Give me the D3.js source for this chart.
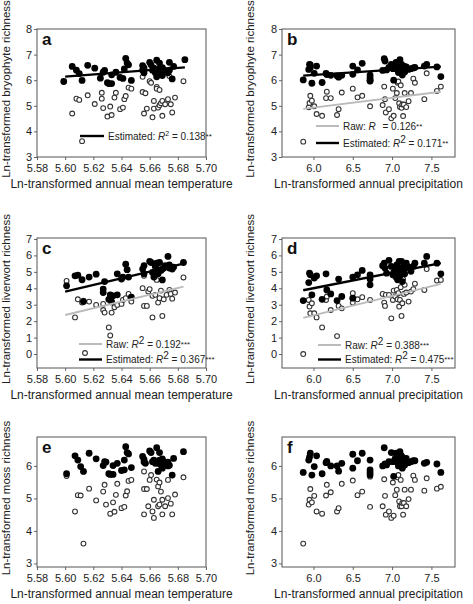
<!DOCTYPE html>
<html><head><meta charset="utf-8">
<script src="https://cdn.jsdelivr.net/npm/d3@7"></script>
<style>body{margin:0;background:#fff;} svg text{font-family:Arial,"Liberation Sans",sans-serif;}</style>
</head><body><svg id="chart" width="473" height="604"></svg>
<script>
// ---------- tick labels ----------
const tempTicks = [5.58, 5.60, 5.62, 5.64, 5.66, 5.68, 5.70];
const precipTicks = [6.0, 6.5, 7.0, 7.5];
const bryoTicks = [3, 4, 5, 6, 7, 8];
const liverTicks = [0, 1, 2, 3, 4, 5, 6, 7];
const mossTicks = [3, 4, 5, 6];

// ---------- panel a: bryophyte vs temperature ----------
const aEst = [[5.599,5.95],[5.605,6.54],[5.608,6.39],[5.610,6.26],[5.612,5.99],[5.616,6.58],[5.621,6.47],[5.625,6.08],[5.627,6.31],[5.628,6.38],[5.630,5.90],[5.631,5.87],[5.633,5.87],[5.633,6.21],[5.636,6.31],[5.639,6.11],[5.641,6.07],[5.642,6.44],[5.643,6.85],[5.644,6.67],[5.645,6.60],[5.647,5.99],[5.655,6.57],[5.655,6.39],[5.656,6.48],[5.656,6.29],[5.660,6.70],[5.661,6.60],[5.662,6.39],[5.663,6.47],[5.664,6.29],[5.665,6.78],[5.665,6.13],[5.666,6.31],[5.667,6.67],[5.667,6.44],[5.668,6.26],[5.669,6.49],[5.669,6.18],[5.670,6.41],[5.671,6.36],[5.673,6.29],[5.674,6.70],[5.674,6.39],[5.676,6.05],[5.677,6.54],[5.685,6.80]];
const aRaw = [[5.605,4.70],[5.608,5.28],[5.610,5.23],[5.612,3.62],[5.616,5.41],[5.621,5.07],[5.626,5.28],[5.626,5.51],[5.627,4.91],[5.630,4.58],[5.632,4.97],[5.633,4.64],[5.635,5.32],[5.636,5.51],[5.639,4.87],[5.641,4.93],[5.642,5.26],[5.643,5.38],[5.645,5.71],[5.647,5.67],[5.655,6.13],[5.655,5.54],[5.656,4.70],[5.657,5.49],[5.658,4.89],[5.660,5.96],[5.661,5.90],[5.662,4.55],[5.663,5.19],[5.663,4.89],[5.665,5.74],[5.665,5.67],[5.666,4.93],[5.667,5.62],[5.667,5.02],[5.668,5.10],[5.669,4.61],[5.669,5.19],[5.671,5.06],[5.673,5.26],[5.674,6.16],[5.675,5.06],[5.676,4.74],[5.678,5.32],[5.684,5.96]];
const aEstLine = [[5.600,6.14],[5.685,6.50]];

// ---------- panel b: bryophyte vs precipitation ----------
const bEst = [[5.87,6.01],[5.94,6.42],[5.95,6.62],[5.96,6.49],[5.96,6.60],[5.98,5.88],[6.01,6.27],[6.04,6.55],[6.11,5.91],[6.16,6.27],[6.17,6.22],[6.22,6.19],[6.30,6.17],[6.32,6.12],[6.36,6.19],[6.50,6.55],[6.50,6.23],[6.56,6.40],[6.62,6.66],[6.72,6.20],[6.72,6.10],[6.72,5.97],[6.72,6.00],[6.88,6.38],[6.90,6.84],[6.91,6.75],[6.93,6.40],[6.96,6.50],[6.99,6.62],[7.01,6.45],[7.02,6.00],[7.04,6.55],[7.05,6.70],[7.06,6.45],[7.07,6.58],[7.08,6.30],[7.09,6.60],[7.10,6.80],[7.11,6.48],[7.12,6.62],[7.13,6.20],[7.14,6.40],[7.15,6.55],[7.16,6.32],[7.18,6.52],[7.21,6.42],[7.24,6.45],[7.27,6.48],[7.29,6.50],[7.41,6.55],[7.44,6.62],[7.57,6.52],[7.62,6.14]];
const bRaw = [[5.87,3.60],[5.94,4.94],[5.95,5.11],[5.96,5.39],[5.98,5.20],[6.01,4.98],[6.04,4.68],[6.11,4.61],[6.16,5.30],[6.17,5.55],[6.22,5.30],[6.30,4.64],[6.32,4.87],[6.36,5.52],[6.50,5.67],[6.56,5.33],[6.62,5.39],[6.72,5.95],[6.72,4.98],[6.88,5.03],[6.90,5.75],[6.91,5.26],[6.92,4.74],[6.96,4.87],[6.99,4.51],[7.01,5.67],[7.02,4.61],[7.04,5.30],[7.06,5.50],[7.07,5.90],[7.08,5.95],[7.09,5.10],[7.10,4.95],[7.11,5.80],[7.12,4.92],[7.13,5.05],[7.14,4.60],[7.15,5.05],[7.16,5.50],[7.18,4.95],[7.21,5.18],[7.24,5.50],[7.27,6.06],[7.29,5.90],[7.41,5.26],[7.44,6.27],[7.57,5.58],[7.62,5.75]];
const bEstLine = [[5.87,6.18],[7.62,6.53]];
const bRawLine = [[5.87,4.88],[7.62,5.55]];

// ---------- panel c: liverwort vs temperature ----------
const cEst = [[5.601,4.15],[5.607,4.76],[5.609,4.80],[5.612,4.52],[5.613,3.19],[5.617,4.68],[5.622,4.86],[5.627,3.74],[5.627,3.95],[5.628,4.41],[5.631,3.33],[5.632,3.60],[5.633,3.17],[5.634,3.54],[5.637,3.60],[5.637,4.88],[5.640,4.56],[5.641,4.68],[5.643,5.47],[5.644,5.13],[5.645,4.68],[5.647,3.46],[5.655,5.17],[5.656,5.37],[5.656,4.88],[5.660,5.64],[5.661,5.57],[5.662,4.96],[5.663,4.68],[5.664,5.33],[5.665,5.53],[5.666,4.88],[5.666,5.13],[5.667,5.57],[5.668,5.09],[5.669,4.51],[5.669,5.17],[5.670,5.23],[5.671,5.37],[5.673,5.94],[5.674,5.43],[5.674,5.23],[5.676,5.17],[5.677,5.29],[5.684,5.57]];
const cRaw = [[5.601,4.45],[5.607,2.23],[5.609,3.33],[5.612,3.13],[5.613,3.25],[5.617,3.19],[5.622,2.99],[5.627,2.68],[5.627,3.05],[5.628,2.52],[5.631,1.62],[5.632,1.13],[5.633,2.52],[5.635,2.85],[5.637,2.99],[5.640,3.05],[5.641,3.29],[5.643,3.40],[5.645,3.66],[5.647,3.19],[5.655,4.01],[5.656,4.76],[5.656,2.93],[5.658,2.93],[5.659,3.80],[5.660,3.95],[5.662,3.54],[5.662,2.23],[5.664,3.60],[5.665,4.51],[5.666,3.13],[5.667,3.40],[5.668,3.86],[5.669,2.32],[5.670,3.33],[5.672,3.60],[5.674,3.90],[5.675,3.66],[5.676,3.37],[5.678,3.74],[5.684,4.66]];
const cEstLine = [[5.600,3.80],[5.684,5.50]];
const cRawLine = [[5.600,2.38],[5.684,4.10]];

// ---------- panel d: liverwort vs precipitation ----------
const dEst = [[5.87,3.25],[5.94,4.35],[5.95,4.92],[5.96,4.82],[5.98,3.60],[6.01,4.62],[6.04,4.76],[6.11,3.33],[6.16,4.88],[6.17,3.90],[6.22,3.66],[6.30,3.25],[6.32,4.56],[6.36,3.50],[6.50,4.68],[6.50,3.40],[6.56,4.82],[6.62,5.09],[6.72,4.82],[6.72,4.56],[6.72,4.21],[6.88,5.37],[6.90,5.53],[6.91,5.23],[6.93,4.92],[6.96,5.70],[6.99,5.33],[7.01,4.82],[7.02,4.96],[7.04,5.13],[7.05,4.68],[7.06,5.43],[7.07,4.52],[7.08,5.03],[7.09,5.64],[7.10,4.76],[7.11,5.23],[7.12,5.64],[7.13,4.41],[7.14,5.03],[7.15,5.33],[7.16,4.88],[7.18,5.53],[7.21,5.29],[7.24,5.03],[7.27,5.33],[7.29,5.53],[7.41,5.53],[7.44,5.94],[7.57,5.53],[7.62,4.88]];
const dRaw = [[5.87,0.00],[5.94,3.29],[5.95,2.89],[5.96,2.48],[5.98,3.09],[6.01,2.48],[6.04,2.23],[6.11,1.62],[6.16,3.29],[6.17,3.50],[6.22,2.68],[6.30,1.09],[6.32,2.93],[6.36,2.78],[6.50,3.70],[6.50,3.13],[6.56,3.33],[6.62,3.46],[6.72,3.29],[6.72,4.56],[6.88,3.66],[6.90,3.13],[6.91,2.93],[6.92,3.60],[6.96,3.60],[6.99,2.17],[7.01,3.29],[7.02,3.86],[7.04,3.50],[7.06,3.90],[7.07,3.33],[7.08,3.70],[7.09,2.89],[7.10,3.29],[7.11,4.07],[7.12,2.32],[7.13,3.09],[7.14,4.56],[7.15,3.66],[7.16,4.21],[7.18,3.74],[7.21,3.19],[7.24,3.80],[7.27,3.95],[7.29,4.28],[7.41,3.90],[7.44,5.17],[7.57,4.47],[7.62,4.51]];
const dEstLine = [[5.87,3.88],[7.62,5.53]];
const dRawLine = [[5.87,2.20],[7.62,4.27]];

// ---------- panel e: moss vs temperature ----------
const eEst = [[5.601,5.76],[5.607,6.31],[5.609,6.18],[5.611,5.98],[5.613,5.83],[5.617,6.39],[5.622,6.22],[5.627,6.01],[5.628,6.13],[5.629,6.12],[5.631,5.76],[5.632,5.74],[5.634,5.74],[5.634,6.01],[5.637,6.08],[5.640,5.86],[5.642,5.88],[5.642,6.18],[5.643,6.59],[5.644,6.41],[5.645,6.37],[5.647,5.95],[5.655,6.29],[5.656,6.12],[5.656,6.20],[5.657,6.08],[5.660,6.46],[5.661,6.41],[5.662,6.13],[5.663,6.18],[5.664,6.08],[5.665,6.56],[5.666,5.83],[5.666,6.08],[5.667,6.41],[5.667,6.18],[5.668,6.03],[5.669,6.22],[5.669,5.93],[5.670,6.13],[5.671,6.08],[5.673,6.00],[5.673,6.12],[5.674,6.02],[5.676,5.72],[5.677,6.23],[5.684,6.44]];
const eRaw = [[5.601,5.69],[5.607,4.60],[5.609,5.10],[5.611,5.09],[5.613,3.61],[5.617,5.30],[5.622,4.94],[5.627,5.21],[5.628,5.42],[5.629,4.81],[5.632,4.53],[5.634,4.88],[5.635,4.59],[5.636,5.11],[5.637,5.45],[5.640,4.70],[5.642,4.74],[5.643,5.09],[5.644,5.22],[5.645,5.54],[5.647,5.57],[5.656,5.83],[5.656,5.29],[5.656,4.51],[5.658,5.29],[5.659,4.76],[5.660,5.57],[5.661,5.72],[5.662,4.60],[5.663,4.96],[5.663,4.40],[5.665,5.58],[5.666,5.37],[5.666,4.76],[5.667,5.49],[5.667,4.81],[5.668,5.21],[5.669,4.51],[5.669,4.96],[5.671,4.76],[5.673,5.01],[5.673,5.57],[5.675,4.84],[5.676,4.51],[5.678,5.12],[5.684,5.65]];

// ---------- panel f: moss vs precipitation ----------
const fEst = [[5.87,5.80],[5.94,6.18],[5.95,6.27],[5.96,6.39],[5.98,5.72],[6.01,5.98],[6.04,6.31],[6.11,5.76],[6.16,6.10],[6.17,6.14],[6.22,6.00],[6.30,6.00],[6.32,5.84],[6.36,6.08],[6.50,6.36],[6.50,5.93],[6.56,6.16],[6.62,6.39],[6.72,6.18],[6.72,5.88],[6.72,5.80],[6.72,5.72],[6.88,6.00],[6.90,6.56],[6.91,6.06],[6.93,6.03],[6.96,6.13],[6.99,6.41],[7.01,6.13],[7.02,5.68],[7.04,6.23],[7.05,6.39],[7.06,6.13],[7.07,6.27],[7.08,6.00],[7.09,6.34],[7.10,6.44],[7.11,6.18],[7.12,6.31],[7.13,5.93],[7.14,6.08],[7.15,6.23],[7.16,6.03],[7.18,6.23],[7.21,6.10],[7.24,6.13],[7.27,6.16],[7.29,6.16],[7.41,6.08],[7.44,6.11],[7.57,6.06],[7.62,5.80]];
const fRaw = [[5.87,3.61],[5.94,4.81],[5.95,4.96],[5.96,5.29],[5.98,4.88],[6.01,5.08],[6.04,4.60],[6.11,4.53],[6.16,5.09],[6.17,5.42],[6.22,5.19],[6.30,4.60],[6.32,4.70],[6.36,5.45],[6.50,5.55],[6.56,5.10],[6.62,5.21],[6.72,5.67],[6.72,4.74],[6.88,4.76],[6.90,5.59],[6.91,5.08],[6.92,4.50],[6.96,4.60],[6.99,4.40],[7.01,5.49],[7.02,4.47],[7.04,5.10],[7.06,5.27],[7.07,5.65],[7.08,5.72],[7.09,4.91],[7.10,4.76],[7.11,5.57],[7.12,4.76],[7.13,4.86],[7.14,4.50],[7.15,4.86],[7.16,5.27],[7.18,4.76],[7.21,4.98],[7.24,5.27],[7.27,5.70],[7.29,5.57],[7.41,5.24],[7.44,5.62],[7.57,5.30],[7.62,5.36]];

// ---------- titles ----------
const xTitles = ["Ln-transformed annual mean temperature", "Ln-transformed annual precipitation"];
const yTitles = ["Ln-transformed bryophyte richness", "Ln-transformed liverwort richness", "Ln-transformed moss richness"];
const panelLetters = ["a","b","c","d","e","f"];

const svg = d3.select("#chart");
svg.append("rect").attr("width",473).attr("height",604).attr("fill","#fff");

function legendText(g, x, y, label, sup, val, supBig){
  const t = g.append("text").attr("x",x).attr("y",y).attr("font-size",10).attr("fill","#222");
  t.append("tspan").text(label);
  t.append("tspan").attr("font-style","italic").text("R");
  if (sup) t.append("tspan").attr("dy",-4).attr("font-size", supBig?10:7).text(sup);
  else t.append("tspan").attr("dy",-4).attr("font-size",7).text("\u00a0\u00a0");
  t.append("tspan").attr("dy",4).text(val.text);
  t.append("tspan").attr("dy",-1).attr("font-size",8).text(val.stars);
}

function panel(cfg){
  const x = d3.scaleLinear().domain(cfg.xd).range([cfg.x0, cfg.x1]);
  const y = d3.scaleLinear().domain(cfg.yd).range([cfg.y1, cfg.y0]);
  const g = svg.append("g");
  const ax = g.append("g").attr("transform",`translate(0,${cfg.y1})`)
    .call(d3.axisBottom(x).tickValues(cfg.xticks).tickFormat(cfg.xfmt).tickSize(3).tickSizeOuter(0).tickPadding(4));
  const ay = g.append("g").attr("transform",`translate(${cfg.x0},0)`)
    .call(d3.axisLeft(y).tickValues(cfg.yticks).tickFormat(d3.format("d")).tickSize(3).tickSizeOuter(0).tickPadding(2));
  [ax, ay].forEach(a => {
    a.select(".domain").remove();
    a.selectAll(".tick line").attr("stroke","#666");
    a.selectAll(".tick text").attr("font-size",11).attr("fill","#222").attr("font-family","Arial, Liberation Sans, sans-serif");
  });
  g.append("rect").attr("x",cfg.x0).attr("y",cfg.y0).attr("width",cfg.x1-cfg.x0).attr("height",cfg.y1-cfg.y0)
    .attr("fill","none").attr("stroke","#555").attr("stroke-width",1);

  g.append("text").attr("x",(cfg.x0+cfg.x1)/2).attr("y",cfg.y1+31).attr("text-anchor","middle")
    .attr("font-size",12).attr("fill","#222").text(cfg.xtitle);
  g.append("text").attr("transform",`translate(${cfg.ytx},${(cfg.y0+cfg.y1)/2 - 4}) rotate(-90)`).attr("text-anchor","middle")
    .attr("font-size",11.5).attr("fill","#222").text(cfg.ytitle);
  g.append("text").attr("x",cfg.x0+5).attr("y",cfg.y0+16).attr("font-size",17).attr("font-weight","bold").attr("fill","#111").text(cfg.letter);

  g.append("g").selectAll("circle").data(cfg.raw).join("circle")
    .attr("cx",d=>x(d[0])).attr("cy",d=>y(d[1])).attr("r",2.4)
    .attr("fill","#fff").attr("stroke","#333").attr("stroke-width",1.1);
  g.append("g").selectAll("circle").data(cfg.est).join("circle")
    .attr("cx",d=>x(d[0])).attr("cy",d=>y(d[1])).attr("r",3.4).attr("fill","#000");
  const line = d3.line().x(d=>x(d[0])).y(d=>y(d[1]));
  if (cfg.rawLine) g.append("path").attr("d",line(cfg.rawLine)).attr("stroke","#bbb").attr("stroke-width",2).attr("fill","none");
  if (cfg.estLine) g.append("path").attr("d",line(cfg.estLine)).attr("stroke","#000").attr("stroke-width",2.4).attr("fill","none");
  if (cfg.legend) cfg.legend(g);
}

const tfmt = d3.format(".2f"), pfmt = d3.format(".1f");
const L = {x0:37, x1:206}, R = {x0:282, x1:455};
const rowA = {y0:29, y1:157}, rowC = {y0:238, y1:368}, rowE = {y0:437, y1:567};

panel({...L,...rowA, xd:[5.58,5.70], yd:[3,8], xticks:tempTicks, yticks:bryoTicks, xfmt:tfmt,
  xtitle:xTitles[0], ytitle:yTitles[0], ytx:10, letter:panelLetters[0], est:aEst, raw:aRaw, estLine:aEstLine,
  legend:g=>{ g.append("line").attr("x1",80).attr("x2",104).attr("y1",136).attr("y2",136).attr("stroke","#000").attr("stroke-width",2.4);
    legendText(g,108,139.5,"Estimated: ","2",{text:" = 0.138",stars:"**"},false); }});
panel({...R,...rowA, xd:[5.6,7.8], yd:[3,8], xticks:precipTicks, yticks:bryoTicks, xfmt:pfmt,
  xtitle:xTitles[1], ytitle:yTitles[0], ytx:254, letter:panelLetters[1], est:bEst, raw:bRaw, estLine:bEstLine, rawLine:bRawLine,
  legend:g=>{ g.append("line").attr("x1",316).attr("x2",339).attr("y1",126).attr("y2",126).attr("stroke","#bbb").attr("stroke-width",2);
    legendText(g,343,129.5,"Raw: ",null,{text:" = 0.126",stars:"**"},true);
    g.append("line").attr("x1",316).attr("x2",339).attr("y1",143).attr("y2",143).attr("stroke","#000").attr("stroke-width",2.4);
    legendText(g,343,146.5,"Estimated: ","2",{text:" = 0.171",stars:"**"},true); }});
panel({...L,...rowC, xd:[5.58,5.70], yd:[-0.85,7.06], xticks:tempTicks, yticks:liverTicks, xfmt:tfmt,
  xtitle:xTitles[0], ytitle:yTitles[1], ytx:10, letter:panelLetters[2], est:cEst, raw:cRaw, estLine:cEstLine, rawLine:cRawLine,
  legend:g=>{ g.append("line").attr("x1",79).attr("x2",102).attr("y1",344).attr("y2",344).attr("stroke","#bbb").attr("stroke-width",2);
    legendText(g,106,347.5,"Raw: ","2",{text:" = 0.192",stars:"***"},true);
    g.append("circle").attr("cx",85).attr("cy",353).attr("r",2.4).attr("fill","#fff").attr("stroke","#333").attr("stroke-width",1.1);
    g.append("line").attr("x1",79).attr("x2",102).attr("y1",359.5).attr("y2",359.5).attr("stroke","#000").attr("stroke-width",2.4);
    legendText(g,106,363,"Estimated: ","2",{text:" = 0.367",stars:"***"},true); }});
panel({...R,...rowC, xd:[5.6,7.8], yd:[-0.85,7.06], xticks:precipTicks, yticks:liverTicks, xfmt:pfmt,
  xtitle:xTitles[1], ytitle:yTitles[1], ytx:254, letter:panelLetters[3], est:dEst, raw:dRaw, estLine:dEstLine, rawLine:dRawLine,
  legend:g=>{ g.append("line").attr("x1",318).attr("x2",341).attr("y1",345).attr("y2",345).attr("stroke","#bbb").attr("stroke-width",2);
    legendText(g,345,348.5,"Raw: ","2",{text:" = 0.388",stars:"***"},true);
    g.append("line").attr("x1",318).attr("x2",341).attr("y1",359.5).attr("y2",359.5).attr("stroke","#000").attr("stroke-width",2.4);
    legendText(g,345,363,"Estimated: ","2",{text:" = 0.475",stars:"***"},true); }});
panel({...L,...rowE, xd:[5.58,5.70], yd:[2.89,6.89], xticks:tempTicks, yticks:mossTicks, xfmt:tfmt,
  xtitle:xTitles[0], ytitle:yTitles[2], ytx:10, letter:panelLetters[4], est:eEst, raw:eRaw});
panel({...R,...rowE, xd:[5.6,7.8], yd:[2.89,6.89], xticks:precipTicks, yticks:mossTicks, xfmt:pfmt,
  xtitle:xTitles[1], ytitle:yTitles[2], ytx:254, letter:panelLetters[5], est:fEst, raw:fRaw});
</script></body></html>
